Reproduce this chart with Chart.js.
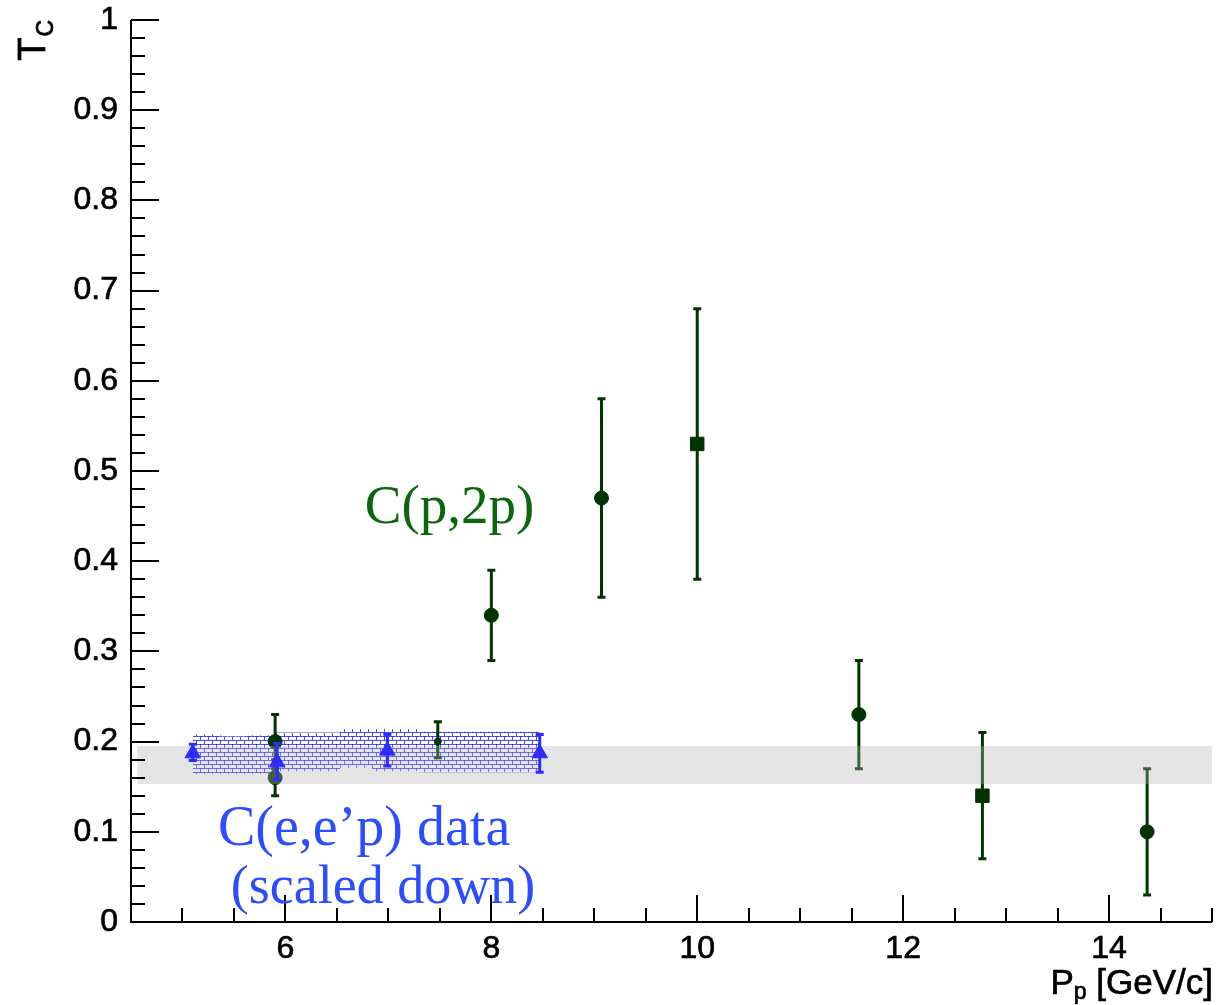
<!DOCTYPE html>
<html>
<head>
<meta charset="utf-8">
<script src="https://cdn.jsdelivr.net/npm/chart.js@4/dist/chart.umd.min.js"></script>
<style>
  html, body { margin: 0; padding: 0; background: #ffffff; overflow: hidden; }
  canvas { display: block; }
</style>
</head>
<body>
<canvas id="chart" width="1217" height="1005" style="width:1217px;height:1005px"></canvas>
<script>
// Axis ticks
const xTickValues = [6, 8, 10, 12, 14];
const xTickLabels = ['6', '8', '10', '12', '14'];
const yTickValues = [0, 0.1, 0.2, 0.3, 0.4, 0.5, 0.6, 0.7, 0.8, 0.9, 1];
const yTickLabels = ['0', '0.1', '0.2', '0.3', '0.4', '0.5', '0.6', '0.7', '0.8', '0.9', '1'];

// C(p,2p) transparency, circle markers
const ppCircX  = [5.9, 5.9, 8.0, 9.07, 11.57, 14.37];
const ppCircY  = [0.20, 0.16, 0.34, 0.47, 0.23, 0.10];
const ppCircLo = [0.17, 0.14, 0.29, 0.36, 0.17, 0.03];
const ppCircHi = [0.23, 0.18, 0.39, 0.58, 0.29, 0.17];

// C(p,2p) transparency, square markers
const ppSqX  = [10.0, 12.77];
const ppSqY  = [0.53, 0.14];
const ppSqLo = [0.38, 0.07];
const ppSqHi = [0.68, 0.21];

// C(p,2p) transparency, small marker
const ppSmallX  = [7.48];
const ppSmallY  = [0.20];
const ppSmallLo = [0.182];
const ppSmallHi = [0.222];

// C(e,e'p) data (scaled down)
const eepX  = [5.1, 5.92, 6.99, 8.47];
const eepY  = [0.187, 0.177, 0.19, 0.187];
const eepLo = [0.179, 0.158, 0.173, 0.166];
const eepHi = [0.197, 0.198, 0.208, 0.208];

// C(e,e'p) uncertainty band (hatched)
const eepBandX  = [5.1, 5.37, 5.61, 5.9, 6.53, 6.84, 7.3, 7.7, 8.47];
const eepBandLo = [0.167, 0.164, 0.164, 0.164, 0.167, 0.171, 0.167, 0.166, 0.166];
const eepBandHi = [0.211, 0.208, 0.206, 0.207, 0.210, 0.214, 0.214, 0.211, 0.211];

// Glauber expectation band (grey)
const glauberX  = [4.56, 15];
const glauberLo = [0.153, 0.153];
const glauberHi = [0.195, 0.195];

const toPts = (xs, ys) => xs.map((x, i) => ({ x: x, y: ys[i] }));

const GREEN = 'rgb(0,52,0)';
const BLUE = 'rgb(44,44,255)';

// brick hatch pattern for the C(e,e'p) band
function brickPattern() {
  const c = document.createElement('canvas');
  c.width = 8; c.height = 8;
  const g = c.getContext('2d');
  g.fillStyle = 'rgba(255,255,255,0.55)';
  g.fillRect(0, 0, 8, 8);
  g.strokeStyle = 'rgba(30,30,255,0.8)';
  g.lineWidth = 1;
  g.beginPath();
  g.moveTo(0, 0.5); g.lineTo(8, 0.5);
  g.moveTo(0, 4.5); g.lineTo(8, 4.5);
  g.moveTo(0.5, 0); g.lineTo(0.5, 4.5);
  g.moveTo(4.5, 4.5); g.lineTo(4.5, 8);
  g.stroke();
  return document.getElementById('chart').getContext('2d').createPattern(c, 'repeat');
}

// vertical error bars with caps, drawn just before the markers of a dataset
const errorBars = {
  id: 'errorBars',
  beforeDatasetDraw(chart, args) {
    const ds = chart.data.datasets[args.index];
    if (!ds.errLo) return;
    const y = chart.scales.y;
    const ctx = chart.ctx;
    ctx.save();
    ctx.strokeStyle = ds.errColor;
    ctx.lineWidth = 3;
    ctx.lineCap = 'butt';
    args.meta.data.forEach((el, i) => {
      const px = el.x;
      const yl = y.getPixelForValue(ds.errLo[i]);
      const yh = y.getPixelForValue(ds.errHi[i]);
      ctx.beginPath();
      ctx.moveTo(px, yl); ctx.lineTo(px, yh);
      ctx.moveTo(px - 4, yl); ctx.lineTo(px + 4, yl);
      ctx.moveTo(px - 4, yh); ctx.lineTo(px + 4, yh);
      ctx.stroke();
    });
    ctx.restore();
  }
};

// inward-pointing major/minor ticks and axis lines
const frameTicks = {
  id: 'frameTicks',
  afterDraw(chart) {
    const { ctx, chartArea: a, scales: { x, y } } = chart;
    ctx.save();
    ctx.strokeStyle = '#000';
    ctx.lineWidth = 2;
    ctx.beginPath();
    ctx.moveTo(a.left, a.top); ctx.lineTo(a.left, a.bottom); ctx.lineTo(a.right, a.bottom);
    // y ticks every 0.02, major every 0.1
    for (let k = 0; k <= 50; k++) {
      const py = Math.round(y.getPixelForValue(k / 50));
      const len = (k % 5 === 0) ? 28 : 14;
      ctx.moveTo(a.left, py); ctx.lineTo(a.left + len, py);
    }
    // x ticks every 0.5, major every 2
    for (let k = 9; k <= 30; k++) {
      const v = k / 2;
      const px = Math.round(x.getPixelForValue(v));
      const len = (v % 2 === 0) ? 27 : 14;
      ctx.moveTo(px, a.bottom); ctx.lineTo(px, a.bottom - len);
    }
    ctx.stroke();
    ctx.restore();
  }
};

// axis titles and text labels
const titles = {
  id: 'titles',
  afterDraw(chart) {
    const { ctx, chartArea: a, scales: { x, y } } = chart;
    const opts = chart.options.plugins.titles;
    ctx.save();
    // y title: T with subscript C, rotated
    ctx.fillStyle = '#000';
    ctx.strokeStyle = '#000';
    ctx.lineWidth = 0.8;
    ctx.translate(45, a.top);
    ctx.rotate(-Math.PI / 2);
    ctx.textBaseline = 'alphabetic';
    ctx.font = '38px "Liberation Sans"';
    const wT = ctx.measureText('T').width;
    ctx.font = '23px "Liberation Sans"';
    const wC = ctx.measureText('C').width;
    ctx.font = '38px "Liberation Sans"';
    ctx.fillText('T', -(wT + wC + 1), 0);
    ctx.strokeText('T', -(wT + wC + 1), 0);
    ctx.font = '23px "Liberation Sans"';
    ctx.fillText('C', -wC, 8);
    ctx.strokeText('C', -wC, 8);
    ctx.restore();

    // x title: P with subscript p
    ctx.save();
    ctx.fillStyle = '#000';
    ctx.strokeStyle = '#000';
    ctx.lineWidth = 0.7;
    ctx.textBaseline = 'alphabetic';
    ctx.font = '35px "Liberation Sans"';
    const rest = ' [GeV/c]';
    const wRest = ctx.measureText(rest).width;
    const wP = ctx.measureText('P').width;
    ctx.font = '23px "Liberation Sans"';
    const wp = ctx.measureText('p').width;
    const xEnd = a.right + 1;
    const base = 994;
    ctx.font = '35px "Liberation Sans"';
    ctx.fillText(rest, xEnd - wRest, base);
    ctx.strokeText(rest, xEnd - wRest, base);
    ctx.fillText('P', xEnd - wRest - wp - wP, base);
    ctx.strokeText('P', xEnd - wRest - wp - wP, base);
    ctx.font = '23px "Liberation Sans"';
    ctx.fillText('p', xEnd - wRest - wp, base + 5);
    ctx.strokeText('p', xEnd - wRest - wp, base + 5);
    ctx.restore();

    // series labels placed in data coordinates
    ctx.save();
    ctx.textBaseline = 'alphabetic';
    ctx.textAlign = 'left';
    opts.labels.forEach(l => {
      ctx.fillStyle = l.color;
      ctx.font = l.font;
      ctx.fillText(l.text, x.getPixelForValue(l.x), y.getPixelForValue(l.y));
    });
    ctx.restore();
  }
};

const fixTicks = (values) => (scale) => { scale.ticks = values.map(v => ({ value: v })); };

new Chart(document.getElementById('chart'), {
  type: 'scatter',
  data: {
    datasets: [
      { // 0
        data: toPts(ppCircX, ppCircY), errLo: ppCircLo, errHi: ppCircHi, errColor: GREEN,
        pointStyle: 'circle', pointRadius: 7, backgroundColor: GREEN, borderColor: GREEN, borderWidth: 1, order: 40
      },
      { // 1
        data: toPts(ppSqX, ppSqY), errLo: ppSqLo, errHi: ppSqHi, errColor: GREEN,
        pointStyle: 'rect', pointRadius: 9.5, backgroundColor: GREEN, borderColor: GREEN, borderWidth: 1, order: 40
      },
      { // 2
        data: toPts(ppSmallX, ppSmallY), errLo: ppSmallLo, errHi: ppSmallHi, errColor: GREEN,
        pointStyle: 'circle', pointRadius: 3.5, backgroundColor: GREEN, borderColor: GREEN, borderWidth: 1, order: 40
      },
      { // 3 hatched band, lower edge
        type: 'line', data: toPts(eepBandX, eepBandLo), stepped: 'after',
        pointRadius: 0, borderWidth: 1, borderColor: 'rgba(0,0,0,0)', fill: false, order: 50
      },
      { // 4 hatched band, upper edge
        type: 'line', data: toPts(eepBandX, eepBandHi), stepped: 'after',
        pointRadius: 0, borderWidth: 1, borderColor: 'rgba(0,0,0,0)', fill: 3,
        backgroundColor: brickPattern(), order: 50
      },
      { // 5 grey band, lower edge
        type: 'line', data: toPts(glauberX, glauberLo),
        pointRadius: 0, borderWidth: 1, borderColor: 'rgba(0,0,0,0)', fill: false, order: 30
      },
      { // 6 grey band, upper edge
        type: 'line', data: toPts(glauberX, glauberHi),
        pointRadius: 0, borderWidth: 1, borderColor: 'rgba(0,0,0,0)', fill: 5,
        backgroundColor: 'rgba(180,180,180,0.35)', order: 30
      },
      { // 7
        data: toPts(eepX, eepY), errLo: eepLo, errHi: eepHi, errColor: BLUE,
        pointStyle: 'triangle', pointRadius: 9, backgroundColor: BLUE, borderColor: BLUE, borderWidth: 1, order: 10
      }
    ]
  },
  options: {
    responsive: false,
    animation: false,
    events: [],
    layout: { autoPadding: false, padding: { top: 20, right: 5, left: 0, bottom: 0 } },
    plugins: {
      legend: { display: false },
      tooltip: { enabled: false },
      titles: {
        labels: [
          { text: 'C(p,2p)', x: 6.77, y: 0.442, color: 'rgb(12,102,12)', font: '55px "Liberation Serif"' },
          { text: 'C(e,e\u2019p) data', x: 5.345, y: 0.0854, color: 'rgb(43,76,255)', font: '56px "Liberation Serif"' },
          { text: '(scaled down)', x: 5.47, y: 0.021, color: 'rgb(43,76,255)', font: '54px "Liberation Serif"' }
        ]
      }
    },
    scales: {
      x: {
        type: 'linear', min: 4.5, max: 15,
        afterBuildTicks: fixTicks(xTickValues),
        afterFit: (s) => { s.height = 83; s.paddingLeft = 0; s.paddingRight = 0; },
        grid: { display: false, drawTicks: false },
        border: { display: false },
        ticks: {
          padding: 8, color: '#000', maxRotation: 0, autoSkip: false,
          textStrokeColor: '#000', textStrokeWidth: 0.7,
          font: { family: 'Liberation Sans', size: 32 },
          callback: (v) => xTickLabels[xTickValues.indexOf(v)]
        }
      },
      y: {
        type: 'linear', min: 0, max: 1,
        afterBuildTicks: fixTicks(yTickValues),
        afterFit: (s) => { s.width = 131; s.paddingTop = 0; s.paddingBottom = 0; },
        grid: { display: false, drawTicks: false },
        border: { display: false },
        ticks: {
          padding: 13, color: '#000', autoSkip: false,
          textStrokeColor: '#000', textStrokeWidth: 0.7,
          font: { family: 'Liberation Sans', size: 32 },
          callback: (v, i) => yTickLabels[i]
        }
      }
    }
  },
  plugins: [errorBars, frameTicks, titles]
});
</script>
</body>
</html>
